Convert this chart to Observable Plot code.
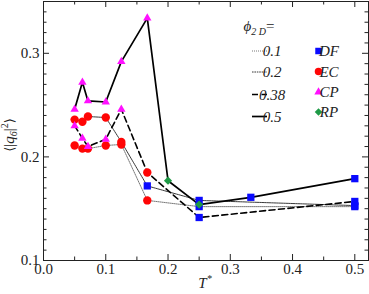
<!DOCTYPE html>
<html><head><meta charset="utf-8">
<script src="https://cdn.jsdelivr.net/npm/d3@7"></script>
<script src="https://cdn.jsdelivr.net/npm/@observablehq/plot@0.6"></script>
<style>body{margin:0;background:#fff} svg{display:block}</style>
</head><body><div id="chart"></div>
<script>
// ---- data ----
const phis = ["0.1", "0.2", "0.38", "0.5"];
const phases = ["DF", "EC", "CP", "RP"];
const phaseColors = ["#0a0aff", "#ff0505", "#ff10ff", "#1f9a46"];
const phaseSymbols = ["square", "circle", "triangle", "diamond2"];

const t_01 = [0.05, 0.0625, 0.0714, 0.1, 0.125, 0.1667, 0.25, 0.5];
const q_01 = [0.211, 0.208, 0.208, 0.211, 0.212, 0.158, 0.152, 0.152];
const p_01 = ["EC", "EC", "EC", "EC", "EC", "EC", "DF", "DF"];

const t_02 = [0.05, 0.0625, 0.0714, 0.1, 0.125, 0.1667, 0.25, 0.5];
const q_02 = [0.236, 0.234, 0.239, 0.238, 0.2145, 0.172, 0.158, 0.153];
const p_02 = ["EC", "EC", "EC", "EC", "EC", "DF", "DF", "DF"];

const t_038 = [0.05, 0.0625, 0.0714, 0.1, 0.125, 0.1667, 0.25, 0.5];
const q_038 = [0.230, 0.218, 0.210, 0.217, 0.246, 0.185, 0.1415, 0.157];
const p_038 = ["CP", "CP", "CP", "CP", "CP", "EC", "DF", "DF"];

const t_05 = [0.05, 0.0625, 0.0714, 0.1, 0.125, 0.1667, 0.2, 0.25, 0.333, 0.5];
const q_05 = [0.246, 0.272, 0.254, 0.253, 0.292, 0.334, 0.177, 0.154, 0.161, 0.179];
const p_05 = ["CP", "CP", "CP", "CP", "CP", "CP", "RP", "RP", "DF", "DF"];

const xMajor = [0, 0.1, 0.2, 0.3, 0.4, 0.5];
const xMinor = [0.05, 0.15, 0.25, 0.35, 0.45];
const yMajor = [0.1, 0.2, 0.3];
const yMinor = d3.range(11, 35).map(d => d / 100).filter(d => Math.abs(d * 10 - Math.round(d * 10)) > 1e-6);

// ---- build table ----
const rows = [];
[["0.1", t_01, q_01, p_01], ["0.2", t_02, q_02, p_02], ["0.38", t_038, q_038, p_038], ["0.5", t_05, q_05, p_05]]
  .forEach(([phi, ts, qs, ps]) => ts.forEach((t, i) => rows.push({phi, t, q: qs[i], phase: ps[i]})));

const W = 369, H = 294, mL = 43, mR = 1, mT = 1, mB = 34;
const innerW = W - mL - mR, innerH = H - mT - mB;
const FONT = "'Liberation Serif', 'Times New Roman', serif";
const INK = "#222";

const lineStyles = {
  "0.1": {stroke: "#555", strokeWidth: 0.8, strokeDasharray: "1,1"},
  "0.2": {stroke: "#222", strokeWidth: 0.9, strokeDasharray: "1.6,0.8"},
  "0.38": {stroke: "#000", strokeWidth: 1.6, strokeDasharray: "6,3.5"},
  "0.5": {stroke: "#000", strokeWidth: 1.7}
};
const dotR = {DF: 4.1, EC: 4.2, CP: 3.1, RP: 3.7};
const drawOrder = ["EC", "DF", "CP", "RP"];

const plot = Plot.plot({
  width: W, height: H,
  marginLeft: mL, marginRight: mR, marginTop: mT, marginBottom: mB,
  style: {fontFamily: FONT, fontSize: "15px", background: "#fff", color: INK},
  x: {domain: [0, 0.522], axis: null},
  y: {domain: [0.1, 0.35], axis: null},
  marks: [
    ...phis.map(p => Plot.line(rows.filter(r => r.phi === p), {x: "t", y: "q", strokeLinejoin: "round", ...lineStyles[p]})),
    ...drawOrder.map(ph => {
      const i = phases.indexOf(ph);
      return Plot.dot(rows.filter(r => r.phase === ph), {x: "t", y: "q", symbol: phaseSymbols[i], fill: phaseColors[i], r: dotR[ph], stroke: "none"});
    }),
    // inward ticks on all four sides
    Plot.tickY(yMajor, {y: d => d, insetRight: innerW - 6, stroke: INK}),
    Plot.tickY(yMinor, {y: d => d, insetRight: innerW - 3.5, stroke: INK}),
    Plot.tickY(yMajor, {y: d => d, insetLeft: innerW - 6, stroke: INK}),
    Plot.tickY(yMinor, {y: d => d, insetLeft: innerW - 3.5, stroke: INK}),
    Plot.tickX(xMajor, {x: d => d, insetTop: innerH - 6, stroke: INK}),
    Plot.tickX(xMinor, {x: d => d, insetTop: innerH - 3.5, stroke: INK}),
    Plot.tickX(xMajor, {x: d => d, insetBottom: innerH - 6, stroke: INK}),
    Plot.tickX(xMinor, {x: d => d, insetBottom: innerH - 3.5, stroke: INK}),
    Plot.axisX(xMajor, {tickSize: 0, tickPadding: 3, tickFormat: d3.format(".1f"), label: null, fill: INK}),
    Plot.axisY(yMajor, {tickSize: 0, tickPadding: 4, tickFormat: d3.format(".1f"), label: null, fill: INK}),
    Plot.frame({stroke: INK, strokeWidth: 1})
  ]
});
document.getElementById("chart").appendChild(plot);

// ---- axis titles and legend ----
const svg = d3.select(plot);
const g = svg.append("g").attr("font-family", FONT).attr("font-size", 15).attr("fill", INK);

// x label T*
const xl = g.append("text").attr("x", 205).attr("y", 288).attr("text-anchor", "middle").attr("font-style", "italic");
xl.append("tspan").text("T");
xl.append("tspan").attr("font-size", 10).attr("dy", -6).text("*");

// y label <|q6|^2>
const yl = g.append("text").attr("transform", "translate(14,135) rotate(-90)").attr("text-anchor", "middle");
yl.append("tspan").attr("font-family", "'DejaVu Serif', serif").attr("font-size", 13).text("\u27E8");
yl.append("tspan").text("|");
yl.append("tspan").attr("font-style", "italic").text("q");
yl.append("tspan").attr("font-style", "italic").attr("font-size", 10).attr("dy", 3).text("6");
yl.append("tspan").attr("dy", -3).text("|");
yl.append("tspan").attr("font-size", 10).attr("dy", -6).text("2");
yl.append("tspan").attr("dy", 6).attr("font-family", "'DejaVu Serif', serif").attr("font-size", 13).text("\u27E9");

// legend title
const lt = g.append("text").attr("x", 259).attr("y", 31).attr("font-style", "italic");
lt.append("tspan").text("\u03D5");
lt.append("tspan").attr("font-size", 10).attr("dy", 4).text("2 D");
lt.append("tspan").attr("dy", -4).attr("font-style", "normal").text("=");

// line style legend
const rowY = [51, 72, 94.5, 116.5];
phis.forEach((p, i) => {
  const s = lineStyles[p];
  g.append("line").attr("x1", 252).attr("x2", 267).attr("y1", rowY[i]).attr("y2", rowY[i])
    .attr("stroke", s.stroke).attr("stroke-width", s.strokeWidth)
    .attr("stroke-dasharray", s.strokeDasharray || null);
  g.append("text").attr("x", 272).attr("y", rowY[i] + 5).attr("font-style", "italic").text(p);
});

// phase legend
const symY = [51, 71.5, 92, 112];
const symSize = {DF: 42, EC: 44, CP: 30, RP: 36};
const d3sym = {square: d3.symbolSquare, circle: d3.symbolCircle, triangle: d3.symbolTriangle, diamond2: d3.symbolDiamond2};
phases.forEach((ph, i) => {
  g.append("path").attr("transform", `translate(318.5,${symY[i]})`)
    .attr("d", d3.symbol(d3sym[phaseSymbols[i]], symSize[ph])())
    .attr("fill", phaseColors[i]);
  g.append("text").attr("x", 329).attr("y", symY[i] + 5).attr("font-style", "italic").text(ph);
});
</script>
</body></html>
